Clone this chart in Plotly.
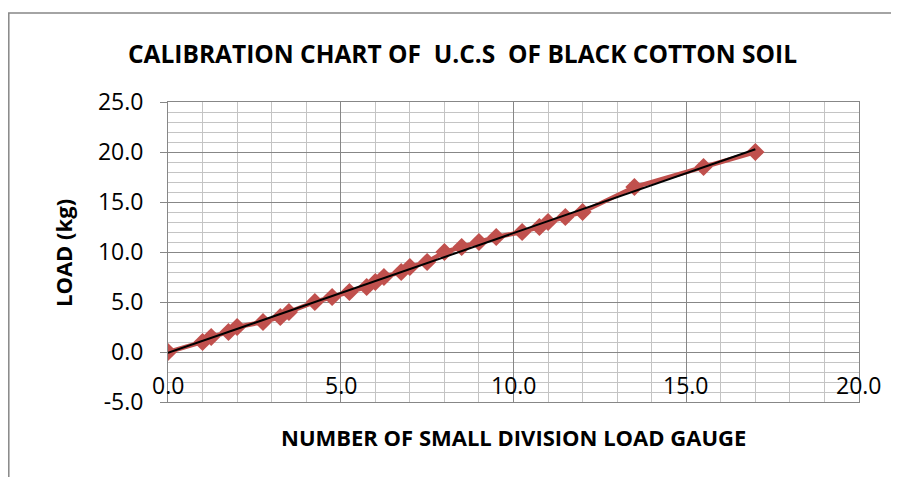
import numpy as np
import plotly.graph_objects as go

# Data
divisions = [0, 1, 1.25, 1.75, 2, 2.75, 3.25, 3.5, 4.25, 4.75, 5.25, 5.75, 6, 6.25,
             6.75, 7, 7.5, 8, 8.5, 9, 9.5, 10.25, 10.75, 11, 11.5, 12, 13.5, 15.5, 17]
load_kg = [0, 1, 1.5, 2, 2.5, 3, 3.5, 4, 5, 5.5, 6, 6.5, 7, 7.5,
           8, 8.5, 9, 10, 10.5, 11, 11.5, 12, 12.5, 13, 13.5, 14, 16.5, 18.5, 20]

x_ticks = [0, 5, 10, 15, 20]
y_ticks = [-5, 0, 5, 10, 15, 20, 25]

title_text = "CALIBRATION CHART OF  U.C.S  OF BLACK COTTON SOIL"
x_title = "NUMBER OF SMALL DIVISION LOAD GAUGE"
y_title = "LOAD (kg)"

# Linear trendline (least squares, as in the spreadsheet trendline)
slope, intercept = np.polyfit(divisions, load_kg, 1)
trend_x = [min(divisions), max(divisions)]
trend_y = [slope * v + intercept for v in trend_x]

RED = "#C0504D"
FONT = "Open Sans"

fig = go.Figure()
fig.add_trace(go.Scatter(
    x=divisions, y=load_kg, mode="lines+markers",
    line=dict(color=RED, width=4.5),
    marker=dict(symbol="diamond", size=14, color=RED, line=dict(width=0)),
    showlegend=False,
))
fig.add_trace(go.Scatter(
    x=trend_x, y=trend_y, mode="lines",
    line=dict(color="black", width=2),
    showlegend=False,
))

# The page body adds an 8px offset; positions below are page pixels minus that.
OFF = 8
W, H = 899, 477
L, T = 168 - OFF, 102 - OFF
pw, ph = 691, 300
R, B = W - L - pw, H - T - ph

def px_to_paper_x(px):
    return (px - OFF - L) / pw

def px_to_paper_y(py):
    return (H - B - (py - OFF)) / ph

# x tick labels drawn just above the bottom axis line (inside the plot area)
x_tick_labels = [dict(text=f"{v:.1f}", xref="x", yref="paper", x=v, y=0,
                      xanchor="center", yanchor="bottom", showarrow=False, yshift=-1,
                      font=dict(size=23, family=FONT, color="black"))
                 for v in x_ticks]

fig.update_layout(
    width=W, height=H,
    margin=dict(l=L, r=R, t=T, b=B, autoexpand=False),
    paper_bgcolor="white", plot_bgcolor="white",
    font=dict(family=FONT, color="black"),
    showlegend=False,
    xaxis=dict(
        range=[0, 20], tickvals=x_ticks, showticklabels=False,
        showgrid=True, gridcolor="#878787", gridwidth=1,
        minor=dict(dtick=1, showgrid=True, gridcolor="#C4C4C4", gridwidth=1),
        showline=True, linecolor="#878787", linewidth=1, mirror=True,
        zeroline=False, ticks="",
    ),
    yaxis=dict(
        range=[-5, 25], tickvals=y_ticks, ticktext=[f"{v:.1f}" for v in y_ticks],
        showgrid=True, gridcolor="#878787", gridwidth=1,
        minor=dict(dtick=1, showgrid=True, gridcolor="#C4C4C4", gridwidth=1),
        showline=True, linecolor="#878787", linewidth=1, mirror=True,
        zeroline=False, ticks="outside", ticklen=7, tickcolor="#878787",
        ticklabelstandoff=12,
        tickfont=dict(size=23, family=FONT),
    ),
    shapes=[dict(
        type="rect", xref="paper", yref="paper",
        x0=px_to_paper_x(OFF + 0.8), x1=px_to_paper_x(950),
        y0=px_to_paper_y(520), y1=px_to_paper_y(13),
        line=dict(color="#878787", width=1.5), fillcolor="rgba(0,0,0,0)",
        layer="below",
    )],
    annotations=x_tick_labels + [
        dict(text=f"<b>{title_text}</b>", xref="paper", yref="paper",
             x=px_to_paper_x(462), y=px_to_paper_y(53), showarrow=False,
             xanchor="center", yanchor="middle",
             font=dict(size=24.5, family=FONT, color="black")),
        dict(text=f"<b>{x_title}</b>", xref="paper", yref="paper",
             x=px_to_paper_x(513), y=px_to_paper_y(437), showarrow=False,
             xanchor="center", yanchor="middle",
             font=dict(size=22, family=FONT, color="black")),
        dict(text=f"<b>{y_title}</b>", xref="paper", yref="paper",
             x=px_to_paper_x(63), y=px_to_paper_y(253), showarrow=False,
             xanchor="center", yanchor="middle", textangle=-90,
             font=dict(size=22, family=FONT, color="black")),
    ],
)

fig.write_html("out.html")
